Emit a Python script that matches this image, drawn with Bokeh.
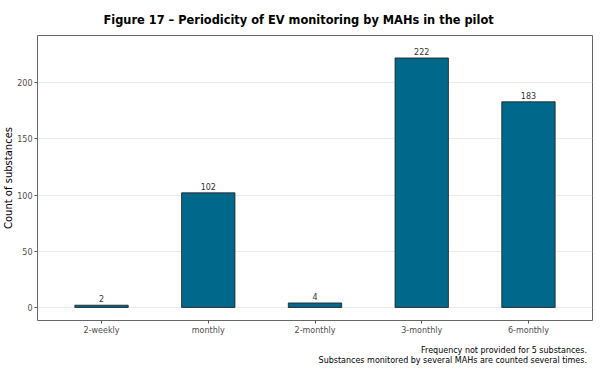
from bokeh.plotting import figure
from bokeh.models import FactorRange, Range1d, FixedTicker, Div, ColumnDataSource
from bokeh.layouts import column
from bokeh.core.properties import value
from bokeh.embed import file_html
from bokeh.resources import INLINE

categories = ["2-weekly", "monthly", "2-monthly", "3-monthly", "6-monthly"]
counts = [2, 102, 4, 222, 183]
y_ticks = [0, 50, 100, 150, 200]
title_text = "Figure 17 \u2013 Periodicity of EV monitoring by MAHs in the pilot"
caption_lines = ["Frequency not provided for 5 substances.",
                 "Substances monitored by several MAHs are counted several times."]

FONT = "DejaVu Sans"

src = ColumnDataSource(dict(cat=categories, n=counts, lab=[str(c) for c in counts]))

p = figure(
    x_range=FactorRange(*categories, range_padding=0.1, range_padding_units="absolute"),
    y_range=Range1d(-11.6, 242),
    frame_width=555, frame_height=285,
    output_backend="svg", toolbar_location=None,
    min_border_left=30, min_border_right=3, min_border_top=35, min_border_bottom=21,
)

p.title.text = title_text
p.title.text_font = FONT
p.title.text_font_style = "bold"
p.title.text_font_size = "11.4px"
p.title.align = "left"
p.title.offset = 66
p.title.standoff = 18
p.title.text_color = "#000000"

p.vbar(x="cat", top="n", width=0.5, source=src, fill_color="#00688B",
       line_color="#1a1a1a", line_width=0.8)
p.text(x="cat", y="n", text="lab", source=src, text_align="center",
       text_baseline="bottom", y_offset=-3, text_font=value(FONT),
       text_font_size="8px", text_color="#333333")

p.outline_line_color = "#666666"
p.outline_line_width = 1
p.background_fill_color = "white"
p.border_fill_color = "white"

p.xgrid.grid_line_color = None
p.ygrid.grid_line_color = "#EBEBEB"
p.ygrid.grid_line_width = 1
p.yaxis.ticker = FixedTicker(ticks=y_ticks)

for ax in (p.xaxis[0], p.yaxis[0]):
    ax.axis_line_color = None
    ax.major_tick_line_color = "#555555"
    ax.major_tick_in = 0
    ax.major_tick_out = 3
    ax.minor_tick_line_color = None
    ax.major_label_text_font = FONT
    ax.major_label_text_font_size = "8px"
    ax.major_label_text_color = "#4D4D4D"
    ax.major_label_standoff = 2

p.yaxis.axis_label = "Count of substances"
p.yaxis.axis_label_text_font = FONT
p.yaxis.axis_label_text_font_style = "normal"
p.yaxis.axis_label_text_font_size = "10px"
p.yaxis.axis_label_text_color = "#000000"
p.yaxis.axis_label_standoff = 0

caption = Div(text="<br>".join(caption_lines), width=582, height=20,
              styles={"text-align": "right", "font-size": "8px",
                      "line-height": "9.5px", "font-family": FONT,
                      "color": "#000000"})

layout = column(p, caption, spacing=0)

open("out.html", "w").write(file_html(layout, INLINE))
